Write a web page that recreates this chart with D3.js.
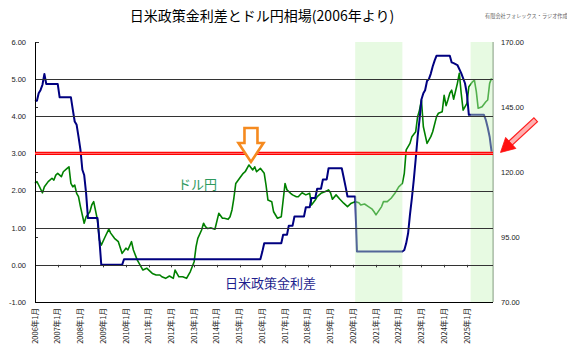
<!DOCTYPE html>
<html><head><meta charset="utf-8">
<script src="https://cdn.jsdelivr.net/npm/d3@7"></script>
<style>body{margin:0;background:#fff}svg{display:block}</style>
</head><body><svg id="c" width="567" height="356"></svg>
<script>
// ---- data ----
const rateDates = ["2006-01","2006-02","2006-03","2006-04","2006-05","2006-06","2006-07","2007-01","2007-02","2007-08","2007-09","2007-10","2007-11","2007-12","2008-01","2008-02","2008-03","2008-04","2008-05","2008-10","2008-11","2008-12","2009-11","2009-12","2015-12","2016-01","2016-02","2016-11","2016-12","2017-02","2017-03","2017-05","2017-06","2017-11","2017-12","2018-02","2018-03","2018-05","2018-06","2018-08","2018-09","2018-11","2018-12","2019-07","2019-08","2019-09","2019-10","2020-02","2020-03","2022-03","2022-04","2022-05","2022-06","2022-07","2022-08","2022-09","2022-10","2022-11","2022-12","2023-01","2023-02","2023-03","2023-04","2023-05","2023-06","2023-07","2023-08","2023-09","2024-04","2024-05","2024-06","2024-08","2024-10","2024-12","2025-01","2025-02","2025-10","2025-11","2025-12","2026-01","2026-02"];
const rateValues = [4.40,4.42,4.62,4.71,4.85,5.14,4.87,4.87,4.51,4.51,4.17,3.86,3.77,3.45,3.10,2.56,2.42,1.93,1.26,1.26,0.67,0.00,0.00,0.15,0.15,0.35,0.58,0.58,0.81,0.81,1.05,1.05,1.30,1.30,1.55,1.55,1.80,1.80,2.05,2.05,2.30,2.30,2.60,2.60,2.35,2.10,1.84,1.84,0.36,0.36,0.40,0.58,0.85,1.35,1.80,2.30,2.85,3.45,3.90,4.45,4.62,4.70,4.95,5.00,5.15,5.34,5.50,5.63,5.63,5.45,5.43,5.38,5.16,4.89,4.60,4.04,4.04,3.90,3.70,3.45,3.05];

const fxDates = ["2006-01","2006-02","2006-03","2006-05","2006-06","2006-08","2006-10","2006-11","2006-12","2007-01","2007-03","2007-04","2007-06","2007-07","2007-08","2007-09","2007-10","2007-11","2007-12","2008-01","2008-03","2008-04","2008-06","2008-07","2008-08","2008-10","2008-11","2008-12","2009-02","2009-04","2009-05","2009-07","2009-09","2009-11","2010-01","2010-02","2010-04","2010-05","2010-07","2010-10","2010-12","2011-03","2011-05","2011-07","2011-08","2011-10","2011-12","2012-02","2012-03","2012-05","2012-07","2012-09","2012-11","2013-01","2013-02","2013-03","2013-05","2013-06","2013-07","2013-08","2013-10","2013-12","2014-02","2014-04","2014-05","2014-07","2014-08","2014-09","2014-10","2014-11","2015-01","2015-03","2015-04","2015-06","2015-08","2015-09","2015-10","2015-12","2016-02","2016-03","2016-04","2016-06","2016-07","2016-09","2016-11","2017-01","2017-02","2017-04","2017-05","2017-07","2017-08","2017-10","2017-12","2018-02","2018-03","2018-05","2018-06","2018-08","2018-10","2018-12","2019-01","2019-02","2019-04","2019-06","2019-08","2019-10","2019-12","2020-02","2020-04","2020-05","2020-07","2020-09","2020-11","2020-12","2021-01","2021-04","2021-05","2021-07","2021-09","2021-11","2022-01","2022-03","2022-04","2022-05","2022-07","2022-08","2022-10","2022-11","2022-12","2023-01","2023-02","2023-04","2023-06","2023-07","2023-09","2023-10","2023-12","2024-01","2024-02","2024-03","2024-04","2024-05","2024-06","2024-08","2024-09","2024-10","2024-11","2025-01","2025-02","2025-04","2025-05","2025-06","2025-07","2025-09","2025-11","2025-12","2026-01","2026-02"];
const fxValues = [115.6,116.3,115.0,112.0,114.3,116.3,117.6,116.9,118.8,119.5,118.2,120.1,121.4,122.0,115.6,114.3,115.0,111.8,110.5,106.7,100.3,102.8,104.7,107.3,108.6,101.5,93.8,91.9,95.1,98.0,96.5,94.5,93.2,88.7,90.7,90.0,93.2,90.0,86.2,82.3,83.0,81.0,80.4,80.4,79.7,79.1,80.0,79.1,82.3,79.7,79.7,79.1,81.7,85.5,91.3,94.5,97.7,100.3,99.0,98.3,98.5,98.0,104.1,102.2,102.2,101.8,102.8,105.4,109.9,115.6,117.6,119.5,120.1,122.7,120.8,122.0,120.1,121.4,119.5,115.0,109.2,108.6,104.7,102.2,102.8,115.6,113.1,111.8,111.2,110.5,110.5,112.0,111.2,111.8,107.3,109.2,110.5,111.8,112.4,113.1,112.0,109.5,111.2,109.5,108.0,106.7,108.0,108.6,108.2,107.3,107.7,106.7,105.7,104.7,103.5,106.7,108.6,108.6,109.9,111.8,114.3,115.6,119.5,128.5,131.0,133.6,135.5,141.3,143.8,147.7,137.4,131.0,133.6,135.5,141.3,142.6,143.2,149.5,145.5,147.7,150.3,151.5,148.0,154.1,158.0,150.3,143.8,146.4,152.8,154.7,155.3,150.9,144.5,145.1,147.0,147.7,154.1,156.0];

const leftTicks = [-1,0,1,2,3,4,5,6];
const rightTicks = [70,95,120,145,170];
const gridValues = [0,1,2,3,4,5];
const xTickDates = ["2006-01","2007-01","2008-01","2009-01","2010-01","2011-01","2012-01","2013-01","2014-01","2015-01","2016-01","2017-01","2018-01","2019-01","2020-01","2021-01","2022-01","2023-01","2024-01","2025-01"];
const xTickLabels = ["2006年1月","2007年1月","2008年1月","2009年1月","2010年1月","2011年1月","2012年1月","2013年1月","2014年1月","2015年1月","2016年1月","2017年1月","2018年1月","2019年1月","2020年1月","2021年1月","2022年1月","2023年1月","2024年1月","2025年1月"];
const bandStarts = ["2020-02","2025-03"];
const bandEnds = ["2022-03","2026-03"];
const refLevel = 3.0;
const peakDate = "2015-06", peakValue = 122.7;

// ---- chart ----
const svg = d3.select("#c");
const parse = d3.timeParse("%Y-%m");
const L = 35, R = 493, T = 42, B = 302;
const x = d3.scaleTime().domain([new Date(2006,0,1), new Date(2026,1,24)]).range([L,R]);
const yL = d3.scaleLinear().domain([-1,6]).range([B,T]);
const yR = d3.scaleLinear().domain([70,170]).range([B,T]);
const fmt = d => d.toFixed(2);
const numFont = "'Liberation Sans', Arial, sans-serif";
const jpFont = "'Noto Sans CJK JP', sans-serif";

const rate = rateDates.map((d,i)=>({d:parse(d), v:rateValues[i]}));
const fx = fxDates.map((d,i)=>({d:parse(d), v:fxValues[i]}));

// title
svg.append("text").attr("x",262).attr("y",21).attr("text-anchor","middle")
  .attr("font-family",jpFont).attr("font-size",14).attr("fill","#000")
  .text("日米政策金利差とドル円相場(2006年より)");
svg.append("text").attr("x",485).attr("y",18)
  .attr("font-family",jpFont).attr("font-size",5.2).attr("fill","#666")
  .text("有限会社フォレックス・ラジオ作成");

// right border (under band overlay)
svg.append("line").attr("x1",R).attr("x2",R).attr("y1",T).attr("y2",B).attr("stroke","#6a7a6a").attr("stroke-width",1);

// lines
svg.append("path").datum(fx).attr("fill","none").attr("stroke","#008000").attr("stroke-width",1.6)
  .attr("stroke-linejoin","round").attr("d", d3.line().x(p=>x(p.d)).y(p=>yR(p.v)));
svg.append("path").datum(rate).attr("fill","none").attr("stroke","#000080").attr("stroke-width",2)
  .attr("stroke-linejoin","round").attr("d", d3.line().x(p=>x(p.d)).y(p=>yL(p.v)));

// band overlay
bandStarts.forEach((s,i)=>{
  const x0 = Math.max(L, x(parse(s))), x1 = Math.min(R+0.5, x(parse(bandEnds[i])));
  svg.append("rect").attr("x",x0).attr("y",T).attr("width",x1-x0).attr("height",B-T)
    .attr("fill","#c5f2bb").attr("opacity",0.42);
});

// gridlines
svg.append("g").selectAll("line").data(gridValues).join("line")
  .attr("x1",L).attr("x2",R).attr("y1",d=>Math.round(yL(d))+0.5).attr("y2",d=>Math.round(yL(d))+0.5)
  .attr("stroke","#333").attr("stroke-width",1);

// inner ticks on left axis at secondary positions
svg.append("g").selectAll("line").data(rightTicks.slice(1,4)).join("line")
  .attr("x1",L).attr("x2",L+3).attr("y1",d=>Math.round(yR(d))+0.5).attr("y2",d=>Math.round(yR(d))+0.5)
  .attr("stroke","#333");
svg.append("line").attr("x1",L).attr("x2",L+4).attr("y1",T+0.5).attr("y2",T+0.5).attr("stroke","#333");

// x ticks on zero line
svg.append("g").selectAll("line").data(xTickDates).join("line")
  .attr("x1",d=>Math.round(x(parse(d)))+0.5).attr("x2",d=>Math.round(x(parse(d)))+0.5)
  .attr("y1",yL(0)).attr("y2",yL(0)+2.5).attr("stroke","#333");

// left & bottom axes
const axL = svg.append("g").attr("transform",`translate(${L},0)`)
  .call(d3.axisLeft(yL).tickValues(leftTicks).tickFormat(fmt).tickSize(0).tickPadding(9));
axL.select(".domain").attr("stroke","#000");
axL.selectAll("text").attr("font-family",numFont).attr("font-size",7.5).attr("fill","#222");
const axR = svg.append("g").attr("transform",`translate(${R},0)`)
  .call(d3.axisRight(yR).tickValues(rightTicks).tickFormat(fmt).tickSize(0).tickPadding(8));
axR.select(".domain").remove();
axR.selectAll("text").attr("font-family",numFont).attr("font-size",7.5).attr("fill","#222");
svg.append("line").attr("x1",L).attr("x2",R).attr("y1",B+0.5).attr("y2",B+0.5).attr("stroke","#000");

// x labels (rotated)
svg.append("g").selectAll("text").data(xTickDates).join("text")
  .attr("transform",d=>`translate(${x(parse(d))},${B+6}) rotate(-90)`)
  .attr("text-anchor","end").attr("dy","0.35em")
  .attr("font-family",jpFont).attr("font-size",7.5).attr("fill","#222")
  .text((d,i)=>xTickLabels[i]);

// red reference line
const yr = yL(refLevel);
svg.append("line").attr("x1",L).attr("x2",R).attr("y1",yr).attr("y2",yr).attr("stroke","#ff0000").attr("stroke-width",3.2);
svg.append("line").attr("x1",L).attr("x2",R).attr("y1",yr).attr("y2",yr).attr("stroke","#ff8a8a").attr("stroke-width",0.8);

// orange arrow to the peak
{
  const cx = x(parse(peakDate)) + 2, tipY = yR(peakValue) - 3;
  const pts = [[cx-6.5,tipY-34],[cx+6.5,tipY-34],[cx+6.5,tipY-19],[cx+12.5,tipY-19],[cx,tipY],[cx-12.5,tipY-19],[cx-6.5,tipY-19]];
  svg.append("polygon").attr("points",pts.map(p=>p.join(",")).join(" "))
    .attr("fill","#fff").attr("stroke","#f58a1f").attr("stroke-width",2.6).attr("stroke-linejoin","miter");
}

// red arrow pointing at current level
{
  const tx = R + 7.5, ty = yr - 1;
  const ang = Math.atan2(-32, 34.5);
  const ux = Math.cos(ang), uy = Math.sin(ang), nx = -uy, ny = ux;
  const P = (a,b)=>[tx+ux*a+nx*b, ty+uy*a+ny*b];
  const shaft = [P(12,-2.6),P(48,-2.6),P(48,2.6),P(12,2.6)];
  svg.append("polygon").attr("points",shaft.map(p=>p.join(",")).join(" "))
    .attr("fill","#ffb0b0").attr("stroke","#ff2020").attr("stroke-width",1.2);
  const head = [P(0,0),P(14,-7.5),P(14,7.5)];
  svg.append("polygon").attr("points",head.map(p=>p.join(",")).join(" "))
    .attr("fill","#ff1010").attr("stroke","#ff1010").attr("stroke-width",0.8);
}

// series labels
svg.append("text").attr("x",178).attr("y",189).attr("font-family",jpFont).attr("font-size",13)
  .attr("fill","#2e9a5e").text("ドル円");
svg.append("text").attr("x",225).attr("y",288).attr("font-family",jpFont).attr("font-size",13)
  .attr("fill","#1e1e8e").text("日米政策金利差");
</script></body></html>
